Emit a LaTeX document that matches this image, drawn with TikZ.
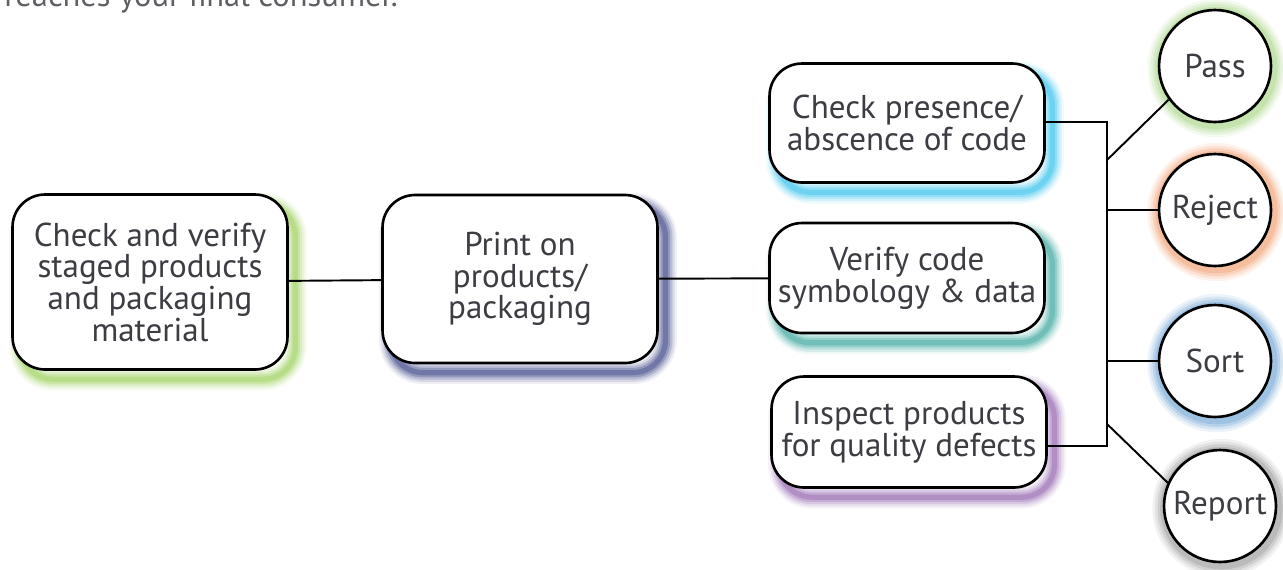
\documentclass[tikz,border=0pt]{standalone}
\usepackage[RGB]{xcolor}
\usepackage{fontspec}
\setmainfont{PT Sans}
\definecolor{txt}{RGB}{60,60,66}
\definecolor{lead}{RGB}{95,95,100}
\definecolor{A}{RGB}{150,205,80}
\definecolor{B}{RGB}{45,55,125}
\definecolor{C}{RGB}{40,190,235}
\definecolor{D}{RGB}{45,160,150}
\definecolor{E}{RGB}{140,90,170}
\definecolor{P}{RGB}{165,212,130}
\definecolor{R}{RGB}{240,155,105}
\definecolor{S}{RGB}{105,160,210}
\definecolor{T}{RGB}{150,150,150}
\newcommand{\labelfont}{\fontsize{18.8}{18}\selectfont}
\tikzset{
  glow/.style={
    preaction={draw=#1, opacity=.08, line width=13pt, transform canvas={shift={(4.5pt,-5.5pt)}}},
    preaction={draw=#1, opacity=.13, line width=10.5pt, transform canvas={shift={(4.5pt,-5.5pt)}}},
    preaction={draw=#1, opacity=.18, line width=8pt, transform canvas={shift={(4.5pt,-5.5pt)}}},
    preaction={draw=#1, opacity=.25, line width=5.5pt, transform canvas={shift={(4.5pt,-5.5pt)}}},
    preaction={draw=#1, opacity=.35, line width=3pt, transform canvas={shift={(4.5pt,-5.5pt)}}}},
  ringglow/.style={
    preaction={draw=#1, opacity=.12, line width=15pt, transform canvas={shift={(.8pt,-1.2pt)}}},
    preaction={draw=#1, opacity=.18, line width=12pt, transform canvas={shift={(.8pt,-1.2pt)}}},
    preaction={draw=#1, opacity=.25, line width=9pt, transform canvas={shift={(.8pt,-1.2pt)}}},
    preaction={draw=#1, opacity=.35, line width=6pt, transform canvas={shift={(.8pt,-1.2pt)}}}},
  stepbox/.style={draw, line width=1.5pt, rounded corners=0.65cm, fill=white, text=txt,
    align=center, font=\labelfont, inner sep=1pt, minimum width=5.5cm},
  outcome/.style={circle, draw, line width=1.5pt, fill=white, text=txt,
    font=\labelfont, inner sep=0pt, minimum size=2.24cm},
  link/.style={line width=1.1pt}
}
\begin{document}
\begin{tikzpicture}[x=0.02cm, y=-0.02cm]
\useasboundingbox (0,0) rectangle (1283,569);
\clip (0,0) rectangle (1283,569);
\node[anchor=base west, text=lead, font=\fontsize{18.5}{20}\selectfont, inner sep=0pt] (intro) at (4,6) {reaches your final consumer.};
% process boxes
\node[stepbox, glow=A, minimum height=3.5cm] (stage) at (150,282) {Check and verify\\staged products\\and packaging\\material};
\node[stepbox, glow=B, minimum height=3.36cm] (print) at (520,279) {Print on\\products/\\packaging};
\node[stepbox, glow=C, minimum height=2.38cm] (presence) at (907,123) {Check presence/\\abscence of code};
\node[stepbox, glow=D, minimum height=2.2cm] (symbology) at (907,278) {Verify code\\symbology \& data};
\node[stepbox, glow=E, minimum height=2.22cm] (inspect) at (909,432) {Inspect products\\for quality defects};
% outcomes
\node[outcome, ringglow=P] (pass) at (1215,66) {Pass};
\node[outcome, ringglow=R] (reject) at (1215,210) {Reject};
\node[outcome, ringglow=S] (sort) at (1215,361) {Sort};
\node[outcome, ringglow=T] (report) at (1220,506) {Report};
% bus
\coordinate (bustop) at (1107,122);
\coordinate (busbot) at (1107,446);
\coordinate (busP) at (1107,160);
\coordinate (busT) at (1107,424);
\draw[link] (stage) -- (print);
\draw[link] (print) -- (symbology);
\draw[link] (bustop -| presence.east) -- (bustop) -- (busbot) -- (busbot -| inspect.east);
\draw[link] (busP) -- (pass.216);
\draw[link] (bustop |- reject) -- (reject);
\draw[link] (bustop |- sort) -- (sort);
\draw[link] (busT) -- (report.156);
\end{tikzpicture}
\end{document}
